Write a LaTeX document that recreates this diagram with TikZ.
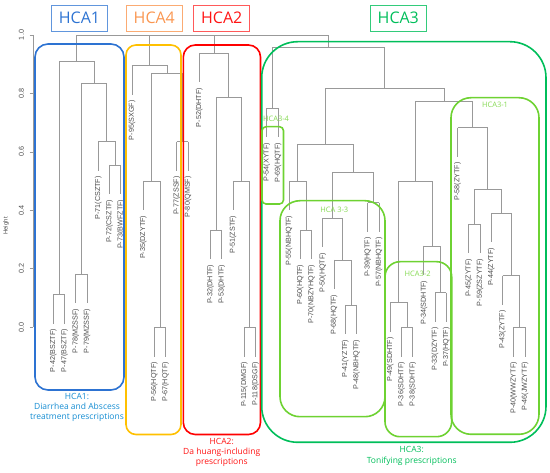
\documentclass[tikz,border=0pt]{standalone}
\usepackage{fontspec}
\setmainfont{Liberation Sans}
\newfontfamily\uifont{Open Sans}
\begin{document}
\begin{tikzpicture}[x=1pt,y=-1pt,
    dendro/.style={draw=gray!80, line width=0.8pt},
    leaflabel/.style={rotate=90, anchor=east, inner sep=0pt, text=black!70, font=\fontsize{7.2}{8}\selectfont},
    clusterbox/.style={line width=1.6pt, rounded corners=#1},
    headbox/.style={line width=0.8pt, minimum width=56pt, minimum height=26pt, inner sep=0pt, font=\uifont\fontsize{16}{18}\selectfont},
    sublabel/.style={text=mylime!85, inner sep=0pt, font=\uifont\fontsize{7.5}{9}\selectfont},
    footlabel/.style={align=center, inner sep=0pt, font=\uifont\fontsize{8.5}{10.3}\selectfont}]
    \definecolor{myblue}{RGB}{45,115,210}
    \definecolor{myfootblue}{RGB}{20,140,210}
    \definecolor{myorange}{RGB}{250,150,80}
    \definecolor{myyellow}{RGB}{255,192,0}
    \definecolor{myred}{RGB}{255,20,20}
    \definecolor{mygreen}{RGB}{0,190,90}
    \definecolor{mylime}{RGB}{110,210,50}

    \useasboundingbox (0,0) rectangle (550,473);

    % axis
    \draw[gray!80, line width=0.8pt] (33,35) -- (33,327.3);
    \foreach \h/\t in {0/0.0,1/0.2,2/0.4,3/0.6,4/0.8,5/1.0} {
        \draw[gray!80, line width=0.8pt] (29.5,327.3-58.46*\h) -- (33,327.3-58.46*\h);
        \node[rotate=90, text=black!70, font=\fontsize{7.2}{8}\selectfont] (tick\h) at (21.5,327.3-58.46*\h) {\t};
    }
    \node[rotate=90, text=black!70, font=\fontsize{6}{7}\selectfont] (ylab) at (6,226) {Height};

    % leaves
    \foreach \i/\lab/\m in {0/P-42(BSZTF)/294.5, 1/P-47(BSZTF)/294.5, 2/P-78(MZSSF)/274, 3/P-79(MZSSF)/274,
        4/P-71(CSZTF)/141.7, 5/P-72(CSZTF)/165, 6/P-73(BWFZTF)/165, 7/P-95(SXGF)/65.7,
        8/P-35(DZYTF)/181, 9/P-56(HQTF)/327.5, 10/P-67(HQTF)/327.5, 11/P-77(ZSSF)/141.7,
        12/P-80(QMSF)/141.7, 13/P-52(DHTF)/53.3, 14/P-32(DHTF)/230, 15/P-53(DHTF)/230,
        16/P-51(ZSTF)/181, 17/P-115(DMGF)/327.5, 18/P-118(DSGF)/327.5, 19/P-54(XYTF)/108.3,
        20/P-69(HQTF)/108.3, 21/P-55(NBHQTF)/181, 22/P-60(HQTF)/230, 23/P-70(NBZYHQTF)/230,
        24/P-50(HQTF)/218.3, 25/P-68(HQTF)/260, 26/P-41(YZTF)/305, 27/P-48(NBHQTF)/305,
        28/P-39(HQTF)/202.7, 29/P-57(NBHQTF)/202.7, 30/P-49(SDHTF)/302.7, 31/P-36(SDHTF)/327.5,
        32/P-38(SDHTF)/327.5, 33/P-34(SDHTF)/246, 34/P-33(DZYTF)/292.7, 35/P-37(HQTF)/292.7,
        36/P-58(ZYTF)/127.7, 37/P-45(ZYTF)/224.3, 38/P-59(ZSZYTF)/224.3, 39/P-44(ZYTF)/213.3,
        40/P-43(ZYTF)/275.7, 41/P-40(WWZYTF)/327.5, 42/P-46(JWZYTF)/327.5} {
        \draw[dendro] (53.3+11.23*\i,\m) -- ++(0,29.2);
        \node[leaflabel] (leaf\i) at (53.3+11.23*\i,\m+34.5) {\lab};
    }

    % merges
    \foreach \xa/\ya/\xb/\yb/\yt in {53.3/294.5/64.53/294.5/294.5, 75.76/274/86.99/274/274,
        109.45/165/120.68/165/165, 98.22/141.7/115.07/165/141.7, 81.38/274/106.64/141.7/83.3,
        58.92/294.5/94.01/83.3/61.7, 154.37/327.5/165.6/327.5/327.5, 143.14/181/159.99/327.5/181,
        176.83/141.7/188.06/141.7/141.7, 151.56/181/182.44/141.7/73.3, 131.91/65.7/167/73.3/65.7,
        210.52/230/221.75/230/230, 244.21/327.5/255.44/327.5/327.5, 232.98/181/249.83/327.5/181,
        216.14/230/241.4/181/97.7, 199.29/53.3/228.77/97.7/53.3, 266.67/108.3/277.9/108.3/108.3,
        300.36/230/311.59/230/230, 289.13/181/305.98/230/181, 345.28/305/356.51/305/305,
        334.05/260/350.9/305/260, 322.82/218.3/342.47/260/218.3, 367.74/202.7/378.97/202.7/202.7,
        332.65/218.3/373.36/202.7/172.7, 297.55/181/353.0/172.7/144.3,
        401.43/327.5/412.66/327.5/327.5, 390.2/302.7/407.05/327.5/302.7,
        435.12/292.7/446.35/292.7/292.7, 423.89/246/440.74/292.7/246, 398.62/302.7/432.31/246/181,
        468.81/224.3/480.04/224.3/224.3, 513.73/327.5/524.96/327.5/327.5,
        502.5/275.7/519.35/327.5/275.7, 491.27/213.3/510.92/275.7/213.3,
        474.43/224.3/501.1/213.3/189.3, 457.58/127.7/487.77/189.3/127.7,
        415.47/181/472.68/127.7/101.7, 325.28/144.3/444.08/101.7/88.3,
        272.29/108.3/384.68/88.3/47.3, 76.46/61.7/149.46/65.7/35,
        112.96/35/214.03/53.3/35, 163.5/35/328.49/47.3/35} {
        \draw[dendro] (\xa,\ya) |- (\xb,\yt) -- (\xb,\yb);
    }

    % cluster boxes
    \draw[clusterbox=13pt, myblue] (35,44) rectangle (124,390);
    \draw[clusterbox=10pt, myyellow] (126,45) rectangle (181,434.5);
    \draw[clusterbox=12pt, red] (183.3,45) rectangle (260.5,434.5);
    \draw[clusterbox=36pt, mygreen] (261.7,41.7) rectangle (546,442.3);
    \draw[clusterbox=4pt, mylime] (262,126.7) rectangle (283.5,204);
    \draw[clusterbox=20pt, mylime] (280,200.7) rectangle (385,416.7);
    \draw[clusterbox=15pt, mylime] (385,261.7) rectangle (451.7,436.7);
    \draw[clusterbox=20pt, mylime] (451,97.7) rectangle (539,434.3);

    % headings
    \node[headbox, draw=myblue!75, text=myblue] (hca1) at (79.5,18) {HCA1};
    \node[headbox, draw=myorange!80, text=myorange] (hca4) at (154.3,18) {HCA4};
    \node[headbox, draw=myred!70, text=myred] (hca2) at (221.7,18) {HCA2};
    \node[headbox, draw=mygreen!80, text=mygreen] (hca3) at (398.3,18) {HCA3};

    \node[sublabel] (sub4) at (276,119.3) {HCA3-4};
    \node[sublabel] (sub3) at (334.3,210) {HCA 3-3};
    \node[sublabel] (sub2) at (417.7,274.3) {HCA3-2};
    \node[sublabel] (sub1) at (495,105) {HCA3-1};

    \node[footlabel, text=myfootblue, anchor=north] (foot1) at (77,393) {HCA1:\\Diarrhea and Abscess\\treatment prescriptions};
    \node[footlabel, text=myred, anchor=north] (foot2) at (221.7,438) {HCA2:\\Da huang-including\\prescriptions};
    \node[footlabel, text=mygreen, anchor=north] (foot3) at (411.7,446.5) {HCA3:\\Tonifying prescriptions};
\end{tikzpicture}
\end{document}
